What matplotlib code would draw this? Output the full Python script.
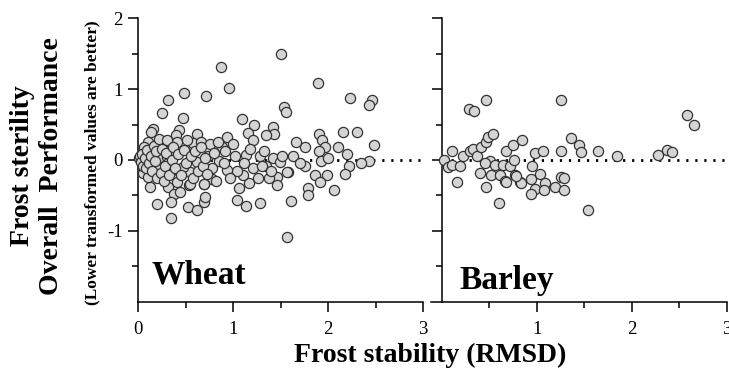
import matplotlib
matplotlib.use("Agg")
import matplotlib.pyplot as plt
from matplotlib.ticker import FixedLocator

plt.rcParams['font.family'] = ['Liberation Serif', 'DejaVu Serif']

# ---- data ----
wheat_x = [1.50, 0.87, 1.89, 0.96, 0.48, 0.72, 0.32, 2.23, 2.46, 2.43, 1.54, 1.56, 0.25, 0.47, 1.09,
           1.22, 1.42, 1.43, 1.16, 1.21, 1.35, 0.16, 0.14, 0.43, 0.40, 0.41, 0.62, 0.58, 0.66, 0.76,
           0.94, 1.00, 0.88, 0.26, 0.10, 0.06, 1.90, 1.94, 1.97, 1.90, 2.16, 2.30, 2.48, 2.20, 1.76,
           1.63, 1.14, 1.28, 1.42, 0.74, 0.13,
           2.43, 1.93, 1.76, 2.22, 2.18, 1.86, 1.99, 1.92, 2.06, 1.79, 1.79, 1.58, 1.46, 1.46, 1.38,
           1.35, 1.49, 1.26, 1.17, 1.21, 1.10, 1.06, 1.04, 0.94, 0.85, 0.78, 0.78, 0.69, 0.62, 0.55,
           0.47, 0.41, 0.54, 0.32, 0.38, 0.13, 0.23, 0.30, 0.21, 0.32, 0.35, 0.01, 0.05, 0.11,
           0.20, 0.35, 0.35, 0.53, 0.62, 0.69, 0.70, 1.04, 1.14, 1.28, 1.61, 1.57, 0.44, 0.55, 0.69, 1.57,
           0.02, 0.03, 0.04, 0.05, 0.07, 0.08, 0.09, 0.12, 0.14, 0.15, 0.17, 0.18, 0.19, 0.20, 0.22,
           0.24, 0.25, 0.27, 0.28, 0.29, 0.31, 0.33, 0.36, 0.37, 0.39, 0.42, 0.45, 0.48, 0.50, 0.52,
           0.56, 0.58, 0.60, 0.63, 0.66, 0.68, 0.71, 0.73, 0.80, 0.82, 0.84, 0.90, 0.92, 0.97, 1.02,
           1.12, 1.18, 1.30, 1.33, 1.40, 1.52, 1.70, 1.66, 2.00, 2.10, 2.35]
wheat_y = [1.49, 1.31, 1.09, 1.02, 0.95, 0.90, 0.84, 0.87, 0.85, 0.78, 0.75, 0.67, 0.66, 0.59, 0.58,
           0.50, 0.46, 0.37, 0.38, 0.28, 0.35, 0.44, 0.39, 0.42, 0.35, 0.25, 0.36, 0.24, 0.25, 0.23,
           0.32, 0.22, 0.18, 0.24, 0.25, 0.18, 0.36, 0.28, 0.18, 0.13, 0.39, 0.40, 0.21, 0.09, 0.18,
           0.06, 0.07, 0.06, 0.03, 0.06, 0.11,
           -0.01, -0.02, -0.09, -0.09, -0.20, -0.21, -0.22, -0.31, -0.43, -0.40, -0.50, -0.17, -0.24, -0.35, -0.26,
           -0.08, -0.03, -0.25, -0.33, -0.12, -0.21, -0.39, -0.15, -0.14, -0.02, -0.12, -0.27, -0.34, -0.03, -0.17,
           -0.10, -0.31, -0.35, -0.38, -0.48, -0.38, 0.04, 0.04, -0.10, -0.05, -0.15, 0.02, -0.19, -0.24,
           -0.62, -0.59, -0.82, -0.67, -0.71, -0.60, -0.53, -0.57, -0.65, -0.61, -0.58, -1.09, -0.46, -0.34, -0.34, -0.17,
           0.05, -0.03, 0.08, -0.08, 0.03, -0.12, 0.14, -0.05, 0.06, -0.15, 0.20, -0.02, 0.12, -0.25, 0.30,
           -0.18, 0.15, -0.30, -0.08, 0.10, 0.28, -0.22, 0.00, 0.18, -0.12, 0.08, -0.22, 0.14, -0.05, 0.28,
           0.05, -0.25, 0.12, -0.15, 0.18, -0.08, 0.02, -0.20, 0.10, -0.30, 0.25, -0.05, 0.12, -0.25, 0.05,
           -0.05, 0.15, -0.08, 0.12, -0.15, 0.05, -0.05, 0.25, 0.02, 0.18, -0.05]

barley_x = [0.02, 0.11, 0.07, 0.11, 0.19, 0.16, 0.22, 0.29, 0.34, 0.47, 0.30, 0.33, 0.37, 0.41,
            0.47, 0.49, 0.54, 0.51, 0.46, 0.56, 0.65, 0.72, 0.76, 0.40, 0.52, 0.61, 0.47, 0.67,
            0.77, 0.82, 0.68, 0.75, 0.85, 0.98, 1.07, 0.95, 0.94, 1.03, 0.98, 0.94, 1.09, 1.08,
            1.19, 1.26, 1.29, 1.29, 0.60, 1.54, 1.26, 1.26, 1.36, 1.44, 1.47, 1.64, 1.84, 2.28,
            2.37, 2.42, 2.58, 2.66, 0.83, 0.68, 0.78]
barley_y = [0.00, 0.12, -0.10, -0.07, -0.09, -0.31, 0.06, 0.72, 0.69, 0.85, 0.13, 0.16, 0.06, 0.18,
            0.25, 0.33, 0.36, -0.02, -0.05, -0.07, -0.07, -0.08, 0.00, -0.19, -0.22, -0.21, -0.38, -0.30,
            -0.22, -0.31, 0.13, 0.21, 0.28, 0.10, 0.13, -0.09, -0.27, -0.20, -0.41, -0.48, -0.33, -0.43,
            -0.38, -0.24, -0.25, -0.42, -0.61, -0.71, 0.84, 0.13, 0.31, 0.21, 0.11, 0.13, 0.05, 0.07,
            0.14, 0.11, 0.64, 0.50, -0.33, -0.31, -0.23]

panel_names = ["Wheat", "Barley"]
x_major_left = [0, 1, 2, 3]
x_major_right = [1, 2, 3]
x_minor = [0.5, 1.5, 2.5]
y_major = [-1, 0, 1, 2]
y_minor = [-1.5, -0.5, 0.5, 1.5]

W, H = 729, 374
fig = plt.figure(figsize=(W / 100, H / 100), dpi=100)

top = 1 - 18.3 / H
bot = 1 - 301.5 / H
axL = fig.add_axes([138 / W, bot, 285 / W, top - bot])
axR = fig.add_axes([431 / W, bot, 295.7 / W, top - bot])

face = '#d4d4d4'
edge = '#333333'

for ax, xs, ys in [(axL, wheat_x, wheat_y), (axR, barley_x, barley_y)]:
    ax.plot([0, 3], [0, 0], color='black', lw=2.0, ls=(0, (0.8, 2.45)), zorder=1)
    ax.scatter(xs, ys, s=54, facecolor=face, edgecolor=edge, linewidths=0.9, zorder=3, clip_on=False)
    ax.set_ylim(-2, 2)
    ax.spines['top'].set_visible(False)
    ax.spines['right'].set_visible(False)
    for sp in ('left', 'bottom'):
        ax.spines[sp].set_linewidth(1.1)
    ax.yaxis.set_major_locator(FixedLocator(y_major))
    ax.yaxis.set_minor_locator(FixedLocator(y_minor))
    ax.xaxis.set_minor_locator(FixedLocator(x_minor))
    ax.tick_params(which='major', length=7, width=1.1, direction='out', labelsize=13.5, pad=4)
    ax.tick_params(which='minor', length=4.5, width=1.1, direction='out')
    ax.tick_params(axis='x', which='major', pad=7)
    ax.set_facecolor('none')

axL.set_xlim(0, 3)
axL.xaxis.set_major_locator(FixedLocator(x_major_left))
axL.set_yticklabels(['-1', '0', '1', '2'])
axL.set_xticklabels([str(v) for v in x_major_left])

axR.set_xlim(-0.113, 3.0)
axR.spines['left'].set_position(('data', 0))
axR.xaxis.set_major_locator(FixedLocator(x_major_right))
axR.set_xticklabels([str(v) for v in x_major_right])
axR.tick_params(axis='y', labelleft=False)

axL.text(0.147, -1.75, panel_names[0], fontsize=24, fontweight='bold', ha='left', va='baseline')
axR.text(0.19, -1.82, panel_names[1], fontsize=24, fontweight='bold', ha='left', va='baseline')

ymid = 1 - 166 / H
fig.text(23 / W, ymid, "Frost sterility", rotation=90, fontsize=20, fontweight='bold', ha='center', va='center')
fig.text(52 / W, ymid, "Overall  Performance", rotation=90, fontsize=20, fontweight='bold', ha='center', va='center')
fig.text(92 / W, 1 - 163 / H, "(Lower transformed values are better)", rotation=90, fontsize=12.5,
         fontweight='bold', ha='center', va='center')
fig.text(430 / W, 1 - 355 / H, "Frost stability (RMSD)", fontsize=20, fontweight='bold', ha='center', va='center')

fig.savefig("out.png", dpi=100)
